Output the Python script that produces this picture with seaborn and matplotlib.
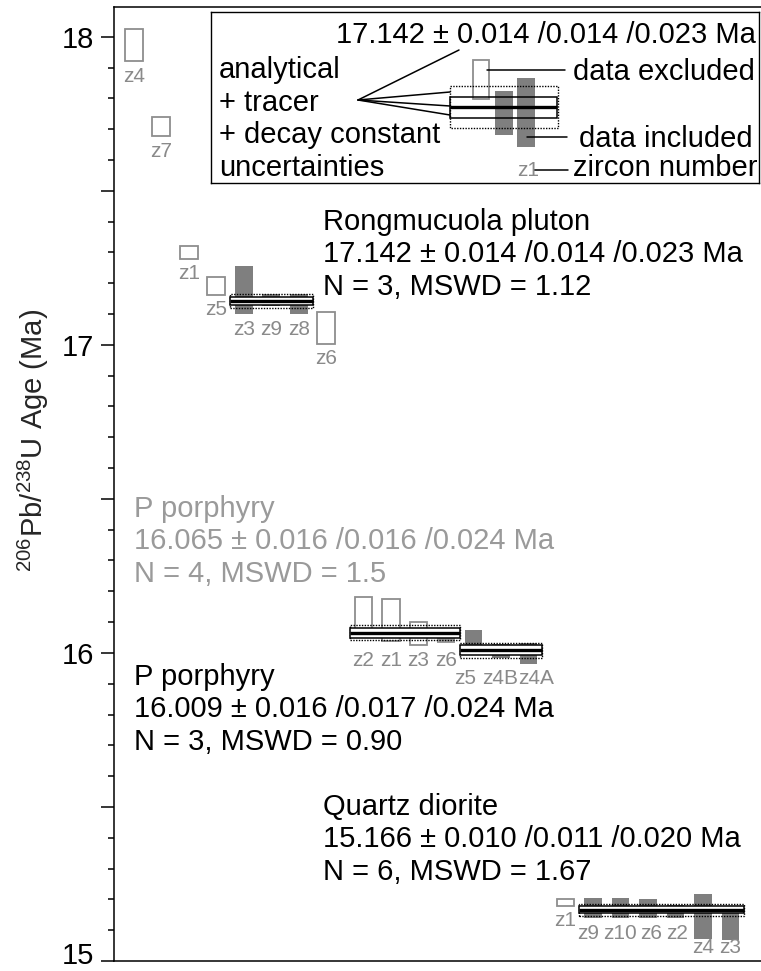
import numpy as np
import pandas as pd
import matplotlib
matplotlib.use("Agg")
import matplotlib.pyplot as plt
import seaborn as sns
from matplotlib.patches import Rectangle

# ---------------- data ----------------
rong_names = ["z4", "z7", "z1", "z5", "z3", "z9", "z8", "z6"]
rong_age = [17.973, 17.708, 17.300, 17.191, 17.178, 17.145, 17.132, 17.056]
rong_err = [0.052, 0.031, 0.020, 0.028, 0.078, 0.020, 0.033, 0.052]
rong_kind = ["open", "open", "open", "open", "filled", "filled", "filled", "open"]

ppor_names = ["z2", "z1", "z3", "z6", "z5", "z4B", "z4A"]
ppor_age = [16.117, 16.107, 16.063, 16.054, 16.034, 16.006, 15.998]
ppor_err = [0.065, 0.067, 0.038, 0.021, 0.041, 0.024, 0.033]
ppor_kind = ["open", "open", "open", "light", "filled", "filled", "filled"]

qd_names = ["z1", "z9", "z10", "z6", "z2", "z4", "z3"]
qd_age = [15.191, 15.171, 15.172, 15.170, 15.162, 15.143, 15.117]
qd_err = [0.011, 0.032, 0.031, 0.031, 0.021, 0.073, 0.049]
qd_kind = ["open", "filled", "filled", "filled", "filled", "filled", "filled"]

# weighted means
mean_title = ["Rongmucuola pluton", "P porphyry", "P porphyry", "Quartz diorite"]
mean_group = ["rong", "ppor", "ppor", "qd"]
mean_age = [17.142, 16.065, 16.009, 15.166]
mean_anal = [0.014, 0.016, 0.016, 0.010]
mean_tracer = [0.014, 0.016, 0.017, 0.011]
mean_decay = [0.023, 0.024, 0.024, 0.020]
mean_n = [3, 4, 3, 6]
mean_mswd = ["1.12", "1.5", "0.90", "1.67"]
mean_members = [["z3", "z9", "z8"], ["z2", "z1", "z3", "z6"],
                 ["z5", "z4B", "z4A"], ["z9", "z10", "z6", "z2", "z4", "z3"]]
mean_color = ["black", "#9a9a9a", "black", "black"]

# y axis ticks
major_ticks = [15, 15.5, 16, 16.5, 17, 17.5, 18]
major_labels = ["", "", "16", "", "17", "", "18"]
bottom_label = "15"

# zircon labels that share a row
label_rows = {"rong": [["z3", "z9", "z8"]],
              "ppor": [["z2", "z1", "z3", "z6"], ["z5", "z4B", "z4A"]],
              "qd": [["z9", "z10", "z6", "z2"], ["z4", "z3"]]}
# small sideways nudges (pixels) that keep crowded labels apart
label_shift = {("ppor", "z5"): -8, ("ppor", "z4B"): -1, ("ppor", "z4A"): 8,
               ("qd", "z9"): -5, ("qd", "z6"): 3, ("qd", "z2"): 2}

# ---------------- layout ----------------
GROUP_GAP = 0.35
BOX_W = 0.64
FILL = "#7f7f7f"
LIGHT = "#9c9c9c"
EDGE = "#8e8e8e"
LABEL_C = "#8a8a8a"
FS = 21
FS_Z = 15
PX = 1 / 308.1  # Ma per pixel

groups = [("rong", rong_names, rong_age, rong_err, rong_kind),
          ("ppor", ppor_names, ppor_age, ppor_err, ppor_kind),
          ("qd", qd_names, qd_age, qd_err, qd_kind)]
rows = []
start = 0.0
for g, names, ages, errs, kinds in groups:
    for i, (n, a, e, k) in enumerate(zip(names, ages, errs, kinds)):
        rows.append(dict(group=g, name=n, age=a, err=e, kind=k, pos=start + i))
    start += len(names) + GROUP_GAP
df = pd.DataFrame(rows)
df["low"] = df["age"] - df["err"]

sns.set_theme(style="ticks")
plt.rcParams.update({
    "font.family": ["Liberation Sans", "DejaVu Sans"],
    "mathtext.fontset": "custom",
    "mathtext.rm": "Liberation Sans",
    "mathtext.it": "Liberation Sans:italic",
    "mathtext.bf": "Liberation Sans:bold",
    "axes.edgecolor": "black",
    "axes.linewidth": 1.1,
    "text.color": "black",
    "ytick.color": "black",
})

fig = plt.figure(figsize=(7.61, 9.71), dpi=100)
ax = fig.add_axes([114 / 761, 10 / 971, 647 / 761, 954 / 971])
ax.set_xlim(-0.72, 22.81)
ax.set_ylim(15.0, 15.0 + 954 * PX)

# individual zircon boxes
for kind, fc, ec, lw in [("open", "none", EDGE, 1.3), ("light", LIGHT, LIGHT, 0.0),
                         ("filled", FILL, FILL, 0.0)]:
    sub = df[df["kind"] == kind]
    ax.bar(sub["pos"], 2 * sub["err"], bottom=sub["low"], width=BOX_W,
           facecolor=fc, edgecolor=ec, linewidth=lw, zorder=2)

# weighted mean bands
for g, m, a, t, d, mem in zip(mean_group, mean_age, mean_anal, mean_tracer,
                               mean_decay, mean_members):
    p = df[(df["group"] == g) & (df["name"].isin(mem))]["pos"]
    x0, x1 = p.min() - 0.5, p.max() + 0.5
    ax.add_patch(Rectangle((x0, m - d), x1 - x0, 2 * d, facecolor="none",
                           edgecolor="black", lw=1.0, ls=(0, (1, 1)), zorder=3))
    ax.add_patch(Rectangle((x0, m - t), x1 - x0, 2 * t, facecolor="white",
                           edgecolor="black", lw=1.1, zorder=4))
    ax.plot([x0, x1], [m, m], color="black", lw=2.4, zorder=5,
            solid_capstyle="butt")


def zlabel(g, z, y):
    dx = label_shift.get((g, z["name"]), 0) * 0.72
    ax.annotate(z["name"], xy=(z["pos"], y), xytext=(dx, 0),
                textcoords="offset points", ha="center", va="center",
                fontsize=FS_Z, color=LABEL_C, zorder=6)


# zircon labels
for g in ["rong", "ppor", "qd"]:
    sub = df[df["group"] == g]
    done = set()
    for row in label_rows[g]:
        r = sub[sub["name"].isin(row)]
        y = max(r["low"].min() - 15 * PX, 15.0 + 13 * PX)
        for _, z in r.iterrows():
            zlabel(g, z, y)
        done.update(row)
    for _, z in sub[~sub["name"].isin(done)].iterrows():
        zlabel(g, z, max(z["low"] - 15 * PX, 15.0 + 13 * PX))

# group annotation blocks
text_x = [6.88, 0.0, 0.0, 6.88]
text_y = [17.373, 16.442, 15.896, 15.474]
for title, m, a, t, d, n, w, c, tx, ty in zip(mean_title, mean_age, mean_anal,
                                               mean_tracer, mean_decay, mean_n,
                                               mean_mswd, mean_color, text_x, text_y):
    lines = [title, f"{m:.3f} \u00b1 {a:.3f} /{t:.3f} /{d:.3f} Ma",
             f"N = {n}, MSWD = {w}"]
    for i, line in enumerate(lines):
        ax.annotate(line, xy=(tx, ty), xytext=(0, -i * 23.4),
                    textcoords="offset points", fontsize=FS, color=c,
                    ha="left", va="baseline", zorder=6)

# axes styling
sns.despine(ax=ax, top=False, right=True, left=False, bottom=False)
ax.set_xticks([])
ax.set_yticks(major_ticks)
ax.set_yticklabels(major_labels)
minor = [v / 10 for v in range(150, 181) if v % 5 != 0]
ax.set_yticks(minor, minor=True)
ax.tick_params(axis="y", which="major", length=9.5, width=1.1, labelsize=FS,
               pad=5, direction="out")
ax.tick_params(axis="y", which="minor", length=4.3, width=1.1, direction="out")
# lowest tick label, lifted slightly so it stays inside the figure
ax.annotate(bottom_label, xy=(0, major_ticks[0]),
            xycoords=("axes fraction", "data"), xytext=(-14.6, -6.3),
            textcoords="offset points", ha="right", va="bottom", fontsize=FS,
            annotation_clip=False)
ax.set_ylabel(r"$\mathregular{^{206}}$Pb/$\mathregular{^{238}}$U Age (Ma)",
              fontsize=FS)
ax.yaxis.set_label_coords(-0.097, 0.546)
ax.grid(False)
ax.set_facecolor("white")

# ---------------- inset legend (pixel coordinates) ----------------
iax = fig.add_axes([210.7 / 761, 1 - 183.3 / 971, (759 - 210.7) / 761,
                    (183.3 - 12.3) / 971])
iax.set_xlim(210.7, 759)
iax.set_ylim(183.3, 12.3)
iax.set_xticks([])
iax.set_yticks([])
for s in iax.spines.values():
    s.set_visible(True)
    s.set_linewidth(1.0)
    s.set_color("black")
iax.set_facecolor("white")

iax.text(756, 43, f"{mean_age[0]:.3f} \u00b1 {mean_anal[0]:.3f} /{mean_tracer[0]:.3f} /{mean_decay[0]:.3f} Ma",
         ha="right", va="baseline", fontsize=FS)
for i, t in enumerate(["analytical", "+ tracer", "+ decay constant", "uncertainties"]):
    iax.text(219, 78 + i * 32.7, t, fontsize=FS, va="baseline", ha="left")

hub = (358, 100)
for ex, ey in [(459, 50), (450, 92), (450, 106), (450, 115)]:
    iax.plot([hub[0], ex], [hub[1], ey], color="black", lw=1.1)

iax.add_patch(Rectangle((473, 60), 16, 39, facecolor="none", edgecolor=EDGE, lw=1.3))
iax.add_patch(Rectangle((495, 91), 18, 44, facecolor=FILL, edgecolor="none"))
iax.add_patch(Rectangle((517, 78), 18, 69, facecolor=FILL, edgecolor="none"))
iax.add_patch(Rectangle((450, 86), 108, 42, facecolor="none", edgecolor="black",
                        lw=1.0, ls=(0, (1, 1))))
iax.add_patch(Rectangle((450, 97), 107, 21, facecolor="none", edgecolor="black", lw=1.1))
iax.plot([450, 557], [107, 107], color="black", lw=2.4, solid_capstyle="butt")

iax.plot([487, 565], [70, 70], color="black", lw=1.1)
iax.text(573, 80, "data excluded", fontsize=FS, va="baseline", ha="left")
iax.plot([527, 567], [137, 137], color="black", lw=1.1)
iax.text(579, 147, "data included", fontsize=FS, va="baseline", ha="left")
iax.text(517, 176, "z1", fontsize=FS_Z, color=LABEL_C, va="baseline", ha="left")
iax.plot([534, 568], [170, 170], color="black", lw=1.1)
iax.text(573, 176, "zircon number", fontsize=FS, va="baseline", ha="left")

fig.savefig("out.png", dpi=100, facecolor="white")
